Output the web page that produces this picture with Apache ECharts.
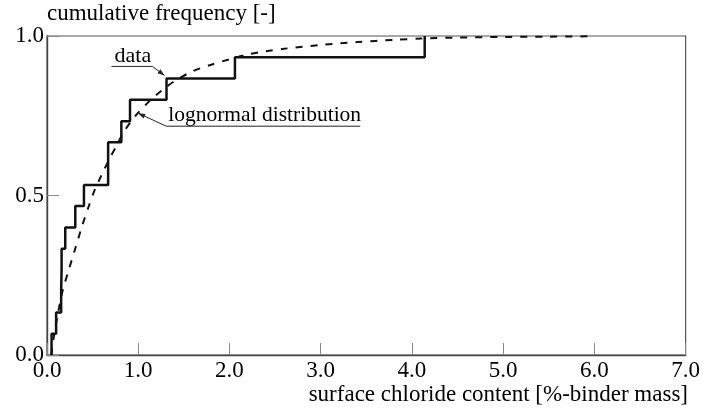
<!DOCTYPE html>
<html><head><meta charset="utf-8">
<script src="https://cdn.jsdelivr.net/npm/echarts@6/dist/echarts.min.js"></script>
<style>html,body{margin:0;padding:0;background:#fff}#c{width:703px;height:412px}</style>
</head><body><div id="c"></div>
<script>
// ---- data ----
const xTickLabels = ['0.0','1.0','2.0','3.0','4.0','5.0','6.0','7.0'];
const yTickLabels = ['0.0','0.5','1.0'];
// empirical data (sorted sample values and cumulative frequency)
const sampleX = [0.05, 0.10, 0.155, 0.16, 0.16, 0.20, 0.31, 0.405, 0.67, 0.67, 0.815, 0.91, 1.31, 2.06, 4.14];
const cumFreq = [0.067, 0.133, 0.200, 0.267, 0.333, 0.400, 0.467, 0.533, 0.600, 0.667, 0.733, 0.800, 0.867, 0.933, 1.000];
// lognormal distribution curve
const lognX = [0.047, 0.08, 0.12, 0.17, 0.24, 0.31, 0.38, 0.45, 0.52, 0.60, 0.68, 0.76, 0.85, 0.97, 1.12, 1.26, 1.40, 1.60, 1.80, 2.0, 2.2, 2.4, 2.6, 3.0, 3.4, 3.8, 4.1, 4.5, 5.0, 5.5, 6.0];
const lognY = [0.0, 0.067, 0.13, 0.20, 0.268, 0.334, 0.40, 0.46, 0.515, 0.565, 0.612, 0.655, 0.703, 0.75, 0.795, 0.83, 0.859, 0.89, 0.91, 0.927, 0.942, 0.952, 0.96, 0.972, 0.981, 0.988, 0.992, 0.995, 0.997, 0.998, 0.999];

const FONT = 'Liberation Serif, Times New Roman, serif';
const stepData = [[sampleX[0], 0]].concat(sampleX.map((x, i) => [x, cumFreq[i]]));
const lognData = lognX.map((x, i) => [x, lognY[i]]);

const chart = echarts.init(document.getElementById('c'), null, {renderer: 'canvas'});
chart.setOption({
  animation: false,
  backgroundColor: '#fff',
  grid: {left: 47, right: 16, top: 36, bottom: 57, show: true, borderColor: '#555', borderWidth: 1.2, backgroundColor: 'transparent'},
  xAxis: {
    type: 'value', min: 0, max: 7, interval: 1,
    axisLine: {show: true, lineStyle: {color: '#444', width: 1.4}},
    axisTick: {show: true, inside: true, length: 12, lineStyle: {color: '#888', width: 1}},
    splitLine: {show: false},
    axisLabel: {margin: 4, color: '#000', fontFamily: FONT, fontSize: 23,
      formatter: v => xTickLabels[Math.round(v)]}
  },
  yAxis: {
    type: 'value', min: 0, max: 1, interval: 0.5,
    axisLine: {show: true, lineStyle: {color: '#444', width: 1.4}},
    axisTick: {show: true, inside: true, length: 12, lineStyle: {color: '#888', width: 1}},
    splitLine: {show: false},
    axisLabel: {margin: 3, color: '#000', fontFamily: FONT, fontSize: 23,
      formatter: v => yTickLabels[Math.round(v * 2)]}
  },
  series: [
    {type: 'line', data: lognData, smooth: 0.3, showSymbol: false, z: 3,
      lineStyle: {color: '#111', width: 2, type: [7, 8]}},
    {type: 'line', data: stepData, step: 'end', showSymbol: false, z: 4,
      lineStyle: {color: '#111', width: 2.5}}
  ]
});

function arrowHead(S, T, len, half) {
  const dx = T[0] - S[0], dy = T[1] - S[1];
  const L = Math.sqrt(dx * dx + dy * dy);
  const ux = dx / L, uy = dy / L, nx = -uy, ny = ux;
  return [T, [T[0] - len * ux + half * nx, T[1] - len * uy + half * ny], [T[0] - len * ux - half * nx, T[1] - len * uy - half * ny]];
}

const tipData = chart.convertToPixel({gridIndex: 0}, [1.31, 0.867]);
const tD = [tipData[0] - 2, tipData[1] - 3];
const sD = [tD[0] - 12, tD[1] - 9];
const tipLog = chart.convertToPixel({gridIndex: 0}, [1.0, 0.758]);
const tL = [tipLog[0], tipLog[1]];
const sL = [tL[0] + 28, tL[1] + 13];

const lineStyle = {stroke: '#222', lineWidth: 1};
chart.setOption({
  graphic: [
    {type: 'text', left: 47, top: 2, style: {text: 'cumulative frequency [-]', font: '23px ' + FONT, fill: '#000'}},
    {type: 'text', right: 15, top: 383, style: {text: 'surface chloride content [%-binder mass]', font: '23px ' + FONT, fill: '#000'}},
    // "data" annotation
    {type: 'text', x: sD[0] - 38, y: sD[1] - 21, style: {text: 'data', font: '22px ' + FONT, fill: '#000'}},
    {type: 'line', shape: {x1: sD[0] - 41, y1: sD[1], x2: sD[0], y2: sD[1]}, style: lineStyle},
    {type: 'line', shape: {x1: sD[0], y1: sD[1], x2: tD[0], y2: tD[1]}, style: lineStyle},
    {type: 'polygon', shape: {points: arrowHead(sD, tD, 7, 2.5)}, style: {fill: '#222'}},
    // "lognormal distribution" annotation
    {type: 'text', x: sL[0] + 2, y: sL[1] - 22, style: {text: 'lognormal distribution', font: '21.5px ' + FONT, fill: '#000'}},
    {type: 'line', shape: {x1: sL[0], y1: sL[1], x2: sL[0] + 194, y2: sL[1]}, style: lineStyle},
    {type: 'line', shape: {x1: sL[0], y1: sL[1], x2: tL[0], y2: tL[1]}, style: lineStyle},
    {type: 'polygon', shape: {points: arrowHead(sL, tL, 7, 2.5)}, style: {fill: '#222'}}
  ]
});
</script>
</body></html>
